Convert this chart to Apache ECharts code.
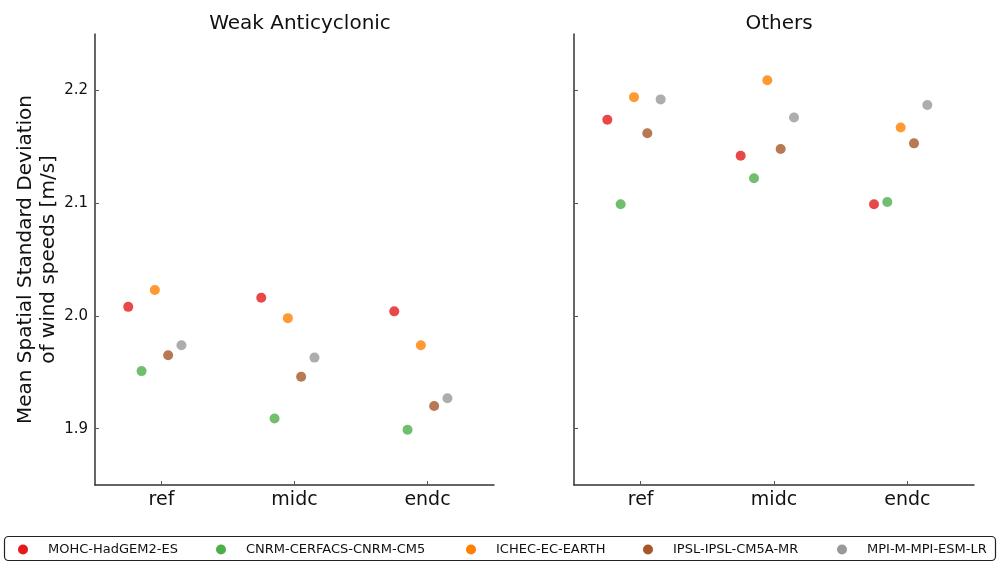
<!DOCTYPE html>
<html>
<head>
<meta charset="utf-8">
<script src="https://cdn.jsdelivr.net/npm/echarts@6/dist/echarts.min.js"></script>
<style>
  html, body { margin: 0; padding: 0; background: #fff; }
  #chart { width: 997px; height: 562px; }
</style>
</head>
<body>
<div id="chart"></div>
<script>
// Periods on the horizontal axis
const categories = ['ref', 'midc', 'endc'];
const panelTitles = ['Weak Anticyclonic', 'Others'];
const models = ['MOHC-HadGEM2-ES', 'CNRM-CERFACS-CNRM-CM5', 'ICHEC-EC-EARTH', 'IPSL-IPSL-CM5A-MR', 'MPI-M-MPI-ESM-LR'];
const modelColors = ['#e41a1c', '#4daf4a', '#ff7f00', '#a65628', '#999999'];
const yTicks = [1.9, 2.0, 2.1, 2.2];

// Mean spatial standard deviation of wind speeds [m/s], per model (ref, midc, endc)
const mohcWeak = [2.008, 2.016, 2.004];
const cnrmWeak = [1.951, 1.909, 1.899];
const ichecWeak = [2.023, 1.998, 1.974];
const ipslWeak = [1.965, 1.946, 1.920];
const mpiWeak = [1.974, 1.963, 1.927];

const mohcOthers = [2.174, 2.142, 2.099];
const cnrmOthers = [2.099, 2.122, 2.101];
const ichecOthers = [2.194, 2.209, 2.167];
const ipslOthers = [2.162, 2.148, 2.153];
const mpiOthers = [2.192, 2.176, 2.187];

const weakValues = [mohcWeak, cnrmWeak, ichecWeak, ipslWeak, mpiWeak];
const otherValues = [mohcOthers, cnrmOthers, ichecOthers, ipslOthers, mpiOthers];

// horizontal dodge of each model inside a category band
const dodge = [-0.25, -0.15, -0.05, 0.05, 0.15];

const FONT = 'DejaVu Sans';
const axisColor = '#333';

const grids = [
  { left: 95, top: 34, width: 399, height: 451 },
  { left: 574, top: 34, width: 400, height: 451 }
];

function xAxisFor(gi) {
  return {
    gridIndex: gi, type: 'value', min: -0.5, max: 2.5,
    axisLine: { show: true, onZero: false, lineStyle: { color: axisColor, width: 1.5 } },
    axisTick: { show: true, inside: true, length: 4, customValues: [0, 1, 2], lineStyle: { color: '#555', width: 1 } },
    axisLabel: {
      customValues: [0, 1, 2], margin: 6,
      formatter: v => categories[Math.round(v)],
      fontFamily: FONT, fontSize: 19, color: '#111'
    },
    splitLine: { show: false }
  };
}

function yAxisFor(gi, showLabels) {
  const ax = {
    gridIndex: gi, type: 'value', min: 1.85, max: 2.25,
    axisLine: { show: true, onZero: false, lineStyle: { color: axisColor, width: 1.5 } },
    axisTick: { show: true, inside: true, length: 4, customValues: yTicks, lineStyle: { color: '#555', width: 1 } },
    axisLabel: {
      show: showLabels, customValues: yTicks, margin: 7,
      formatter: v => v.toFixed(1),
      fontFamily: FONT, fontSize: 15, color: '#111'
    },
    splitLine: { show: false }
  };
  if (showLabels) {
    ax.name = 'Mean Spatial Standard Deviation\nof wind speeds [m/s]';
    ax.nameLocation = 'middle';
    ax.nameGap = 34;
    ax.nameTextStyle = { fontFamily: FONT, fontSize: 20, color: '#111', lineHeight: 23 };
  }
  return ax;
}

const series = [];
[weakValues, otherValues].forEach((panel, gi) => {
  panel.forEach((vals, mi) => {
    series.push({
      name: models[mi],
      type: 'scatter',
      xAxisIndex: gi, yAxisIndex: gi,
      symbol: 'circle', symbolSize: 10,
      itemStyle: { color: modelColors[mi], opacity: 0.8 },
      emphasis: { disabled: true },
      data: vals.map((v, ci) => [ci + dodge[mi], v])
    });
  });
});

// one legend per model so each entry sits where it should inside the frame
const legendLefts = [18, 216, 466, 643, 837];
const legends = models.map((m, i) => ({
  data: [m],
  left: legendLefts[i], top: 543,
  padding: 0,
  itemWidth: 10, itemHeight: 10,
  icon: 'circle',
  itemStyle: { opacity: 1 },
  selectedMode: false,
  formatter: name => '{s|}' + name,
  textStyle: { fontFamily: FONT, fontSize: 13, color: '#111', rich: { s: { width: 15 } } }
}));

const titleStyle = { fontFamily: FONT, fontSize: 20, fontWeight: 'normal', color: '#111' };

const option = {
  backgroundColor: '#fff',
  animation: false,
  title: [
    { text: panelTitles[0], left: 295, top: 9, textAlign: 'center', textStyle: titleStyle },
    { text: panelTitles[1], left: 774, top: 9, textAlign: 'center', textStyle: titleStyle }
  ],
  grid: grids,
  xAxis: [xAxisFor(0), xAxisFor(1)],
  yAxis: [yAxisFor(0, true), yAxisFor(1, false)],
  legend: legends,
  graphic: [{
    type: 'rect', silent: true, z: -1,
    shape: { x: 4.5, y: 536.5, width: 991, height: 24, r: 4 },
    style: { fill: '#fff', stroke: '#222', lineWidth: 1.2 }
  }],
  series: series
};

const chart = echarts.init(document.getElementById('chart'), null, { renderer: 'canvas' });
chart.setOption(option);
</script>
</body>
</html>
